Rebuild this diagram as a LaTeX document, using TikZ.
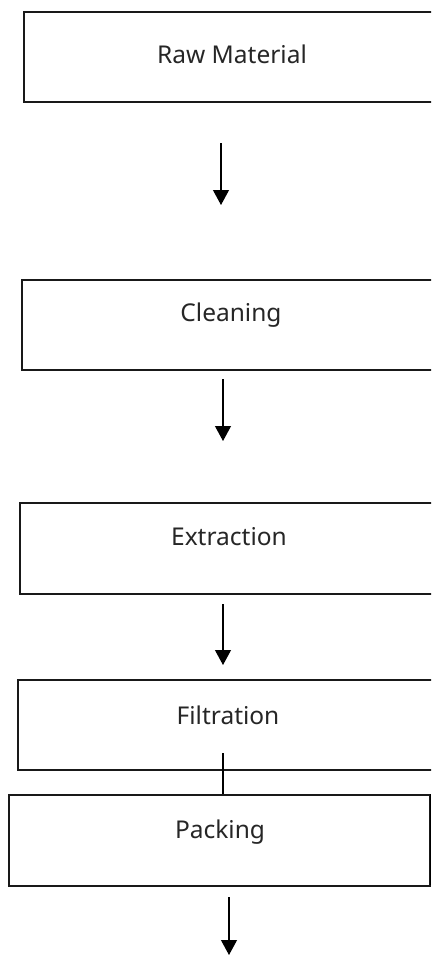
\documentclass[tikz,border=0pt]{standalone}
\usepackage{fontspec}
\setmainfont{Noto Sans}
\usetikzlibrary{arrows.meta}
\begin{document}
\begin{tikzpicture}[x=1pt,y=-1pt,
  box/.style={draw=black!90,line width=1.6pt,rectangle,inner sep=0pt,anchor=north west},
  lbl/.style={font=\fontsize{24.5}{28}\selectfont,text=black!85,inner sep=0pt,anchor=center},
  flow/.style={line width=1.1pt,-{Triangle[width=16pt,length=15pt]}},
  plain/.style={line width=1.1pt}]
\useasboundingbox (0,0) rectangle (431,955);
\clip (0,0) rectangle (431,955);
\node[box,minimum width=440pt,minimum height=90pt] (b1) at (23,11) {};
\node[box,minimum width=440pt,minimum height=90pt] (b2) at (21,279) {};
\node[box,minimum width=440pt,minimum height=91pt] (b3) at (19,502) {};
\node[box,minimum width=440pt,minimum height=90pt] (b4) at (17,679) {};
\node[box,minimum width=421pt,minimum height=91pt] (b5) at (8,794) {};
\node[lbl] (t1) at (232,54) {Raw Material};
\node[lbl] (t2) at (231,315) {Cleaning};
\node[lbl] (t3) at (229,537) {Extraction};
\node[lbl] (t4) at (228,715) {Filtration};
\node[lbl] (t5) at (220,832) {Packing};
\coordinate (a1s) at (221,143); \coordinate (a1e) at (221,205);
\coordinate (a2s) at (223,379); \coordinate (a2e) at (223,441);
\coordinate (a3s) at (223,604); \coordinate (a3e) at (223,665);
\coordinate (a4s) at (223,753);
\coordinate (a5s) at (229,897); \coordinate (a5e) at (229,955);
\coordinate (e1) at (430.5,794); \coordinate (e2) at (430.5,885);
\draw[flow] (a1s) -- (a1e);
\draw[flow] (a2s) -- (a2e);
\draw[flow] (a3s) -- (a3e);
\draw[plain] (a4s) -- (a4s |- b5.north);
\draw[flow] (a5s) -- (a5e);
\draw[line width=1pt] (e1) -- (e2);
\end{tikzpicture}
\end{document}
